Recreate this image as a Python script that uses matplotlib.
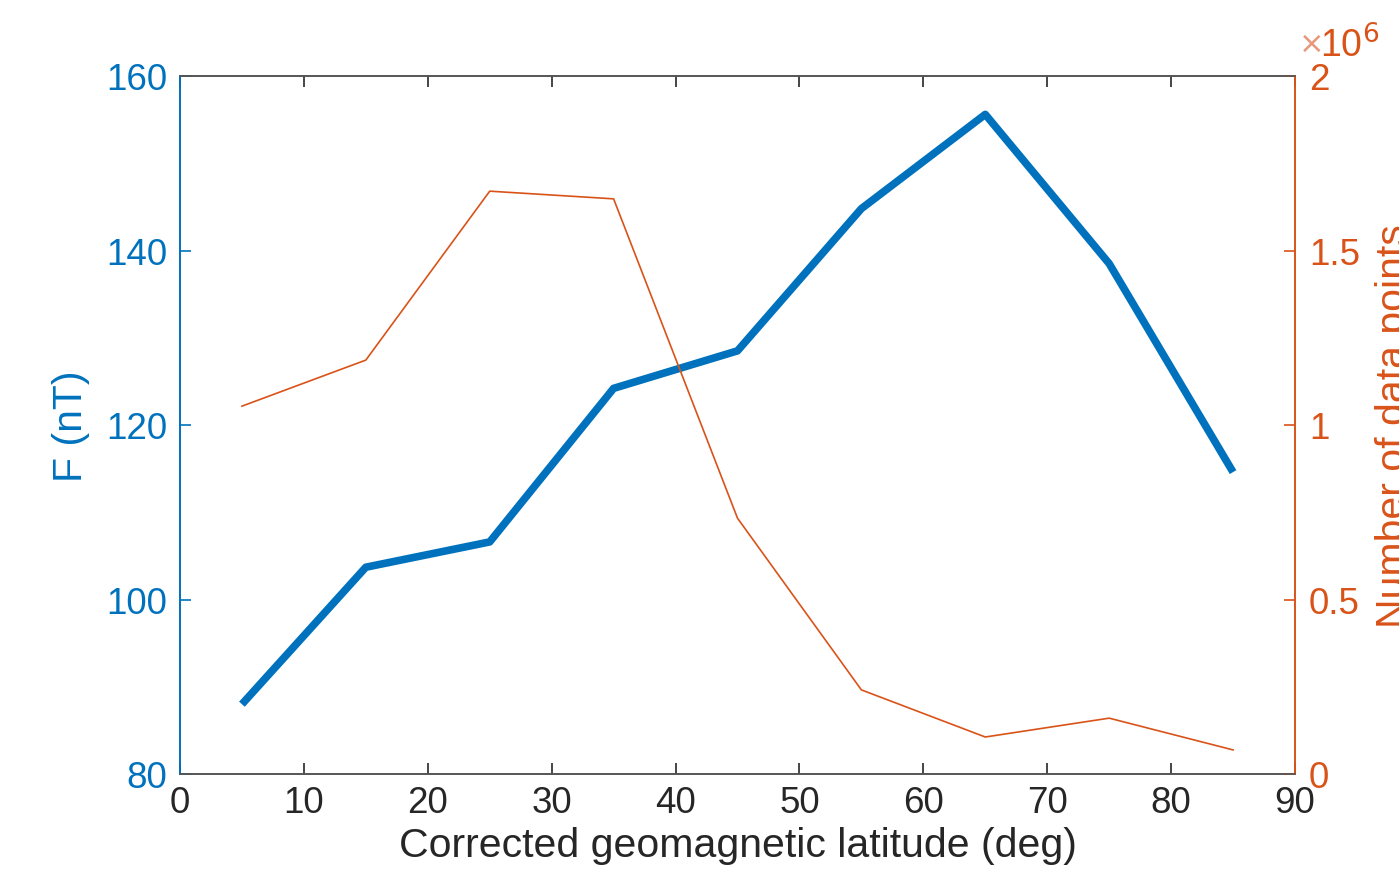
import matplotlib
matplotlib.use('Agg')
import matplotlib.pyplot as plt
from matplotlib.ticker import FuncFormatter

# Datos
latitud = [5, 15, 25, 35, 45, 55, 65, 75, 85]
campo_f = [88.0, 103.7, 106.6, 124.2, 128.5, 144.8, 155.6, 138.5, 114.6]
n_puntos = [1.054e6, 1.186e6, 1.670e6, 1.648e6, 0.733e6, 0.241e6, 0.106e6, 0.160e6, 0.069e6]

azul = '#0072BD'
naranja = '#D95319'
gris = '#262626'

plt.rcParams['font.family'] = ['Liberation Sans', 'DejaVu Sans']

fig = plt.figure(figsize=(13.99, 8.79), dpi=100)
ax = fig.add_axes([180/1399, 1 - 775/879, (1295-180)/1399, (775-77)/879])
ax2 = ax.twinx()

ax.plot(latitud, campo_f, color=azul, linewidth=5.5, solid_capstyle='butt')
ax2.plot(latitud, n_puntos, color=naranja, linewidth=1.2)

ax.set_xlim(0, 90)
ax.set_ylim(80, 160)
ax2.set_ylim(0, 2e6)
ax.set_xticks(range(0, 91, 10))
ax.set_yticks(range(80, 161, 20))
ax2.set_yticks([0, 0.5e6, 1e6, 1.5e6, 2e6])
ax2.yaxis.set_major_formatter(FuncFormatter(lambda v, p: '%g' % (v / 1e6)))

ax.tick_params(axis='x', direction='in', length=8, width=1.2, top=True,
               labelsize=26.5, colors=gris, pad=8)
ax.tick_params(axis='y', direction='in', length=8, width=1.2,
               labelsize=26.5, colors=azul, pad=9)
ax2.tick_params(axis='y', direction='in', length=8, width=1.2,
                labelsize=26.5, colors=naranja, pad=10)

for a in (ax, ax2):
    a.spines['top'].set_color('#555555')
    a.spines['bottom'].set_color('#555555')
    a.spines['left'].set_color(azul)
    a.spines['right'].set_color(naranja)
    for s in a.spines.values():
        s.set_linewidth(1.2)

ax.set_xlabel('Corrected geomagnetic latitude (deg)', fontsize=29.5, color=gris, labelpad=4)
ax.set_ylabel('F (nT)', fontsize=29.5, color=azul, labelpad=12)
ax2.set_ylabel('Number of data points', fontsize=29.5, color=naranja, labelpad=11)

ax2.text(1.003, 1.024, r'$\times$', transform=ax2.transAxes, fontsize=22,
         color='#E9967A', ha='left', va='bottom')
ax2.text(1.022, 1.016, r'10$^6$', transform=ax2.transAxes, fontsize=27,
         color=naranja, ha='left', va='bottom')

fig.savefig('out.png', dpi=100)
